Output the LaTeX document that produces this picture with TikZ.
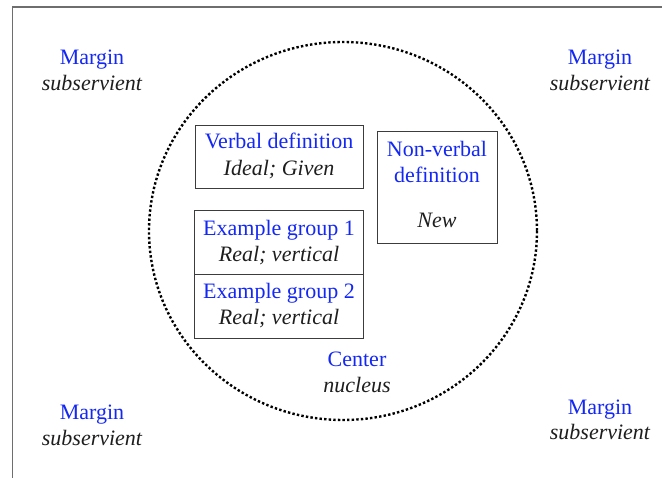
\documentclass[tikz,border=0pt]{standalone}
\usepackage{fontspec}
\setmainfont{Liberation Serif}
\newfontfamily\tnr{Liberation Serif}
\definecolor{txtblue}{RGB}{20,40,245}
\definecolor{txtdark}{RGB}{30,30,30}
\definecolor{framegray}{RGB}{110,110,110}
\definecolor{boxgray}{RGB}{60,60,60}
\tikzset{
  head/.style={anchor=base, text=txtblue, inner sep=0pt, font=\tnr\fontsize{22}{26}\selectfont},
  sub/.style={anchor=base, text=txtdark, inner sep=0pt, font=\tnr\fontsize{22}{26}\selectfont\itshape},
  boxframe/.style={draw=boxgray, line width=1pt},
  circdots/.style={line width=2.4pt, dash pattern=on 2.4pt off 2.2pt, black}
}
\begin{document}
\begin{tikzpicture}[x=1pt,y=-1pt]
\useasboundingbox (0,0) rectangle (662,478);
\fill[white] (0,0) rectangle (662,478);
% frame (partly cropped)
\draw[framegray, line width=1.4pt] (12.5,478) -- (12.5,7) -- (662,7);
% dotted circle
\draw[circdots] (343,231) ellipse [x radius=194, y radius=189];
% boxes
\node[boxframe, minimum width=168pt, minimum height=63pt, inner sep=0pt] (vbox) at (279,157.5) {};
\node[boxframe, minimum width=169pt, minimum height=63.5pt, inner sep=0pt] (e1box) at (278.5,242.5) {};
\node[boxframe, minimum width=169pt, minimum height=64.5pt, inner sep=0pt] (e2box) at (278.5,306.5) {};
\node[boxframe, minimum width=120pt, minimum height=112pt, inner sep=0pt] (nvbox) at (437,188) {};
% box texts
\node[head] (vt) at (279,149) {Verbal definition};
\node[sub] (vs) at (279,176) {Ideal; Given};
\node[head] (e1t) at (279,236) {Example group 1};
\node[sub] (e1s) at (279,262) {Real; vertical};
\node[head] (e2t) at (279,299) {Example group 2};
\node[sub] (e2s) at (279,325) {Real; vertical};
\node[head] (nvt1) at (437,157) {Non-verbal};
\node[head] (nvt2) at (437,183) {definition};
\node[sub] (nvs) at (437,228) {New};
% center
\node[head] (ct) at (357,367) {Center};
\node[sub] (cs) at (357,393) {nucleus};
% margins
\node[head] (m1) at (92,65) {Margin};
\node[sub] (s1) at (92,91) {subservient};
\node[head] (m2) at (600,65) {Margin};
\node[sub] (s2) at (600,91) {subservient};
\node[head] (m3) at (92,420) {Margin};
\node[sub] (s3) at (92,446) {subservient};
\node[head] (m4) at (600,415) {Margin};
\node[sub] (s4) at (600,440) {subservient};
\end{tikzpicture}
\end{document}
